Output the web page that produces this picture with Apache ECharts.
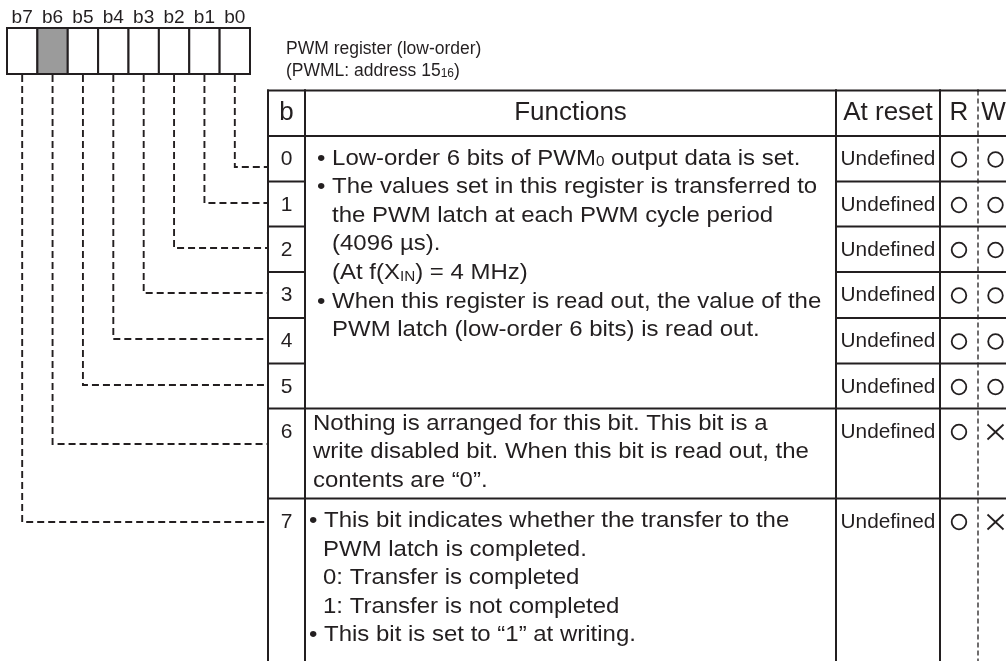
<!DOCTYPE html>
<html><head><meta charset="utf-8">
<script src="https://cdn.jsdelivr.net/npm/echarts@6/dist/echarts.min.js"></script>
<style>html,body{margin:0;padding:0;background:#fff}#chart{width:1006px;height:661px}</style>
</head><body><div id="chart"></div>
<script>
// ---------------- data (content only) ----------------
const bitNames = ['b7', 'b6', 'b5', 'b4', 'b3', 'b2', 'b1', 'b0'];
const reservedBits = ['b6'];
const titleLines = ['PWM register (low-order)', '(PWML: address 15{sub|16})'];
const headers = ['b', 'Functions', 'At reset', 'R', 'W'];
const rowBits = ['0', '1', '2', '3', '4', '5', '6', '7'];
const resetValues = ['Undefined', 'Undefined', 'Undefined', 'Undefined', 'Undefined', 'Undefined', 'Undefined', 'Undefined'];
const readMarks = ['O', 'O', 'O', 'O', 'O', 'O', 'O', 'O'];
const writeMarks = ['O', 'O', 'O', 'O', 'O', 'O', 'X', 'X'];
const functionRowSpans = [[0, 5], [6, 6], [7, 7]];
const functionTexts = [
  [
    '• Low-order 6 bits of PWM{sub|0} output data is set.',
    '• The values set in this register is transferred to',
    'the PWM latch at each PWM cycle period',
    '(4096 µs).',
    '(At f(X{sub|IN}) = 4 MHz)',
    '• When this register is read out, the value of the',
    'PWM latch (low-order 6 bits) is read out.'
  ],
  [
    'Nothing is arranged for this bit. This bit is a',
    'write disabled bit. When this bit is read out, the',
    'contents are “0”.'
  ],
  [
    '• This bit indicates whether the transfer to the',
    'PWM latch is completed.',
    '0: Transfer is completed',
    '1: Transfer is not completed',
    '• This bit is set to “1” at writing.'
  ]
];

// ---------------- layout (positions / sizes / styles) ----------------
const L = {
  reg: { x0: 7, x1: 250, y0: 28, y1: 74, labelY: 18 },
  title: { x: 286, y: [49, 71] },
  cols: [268, 305, 836, 940, 978, 1012],
  top: 90.5, headBottom: 136, bottom: 661,
  rowTops: [136, 181.5, 226.5, 272, 318, 363.5, 408.5, 498.5],
  rowBottoms: [181.5, 226.5, 272, 318, 363.5, 408.5, 498.5, 661],
  markDy: 23.5,
  connectorDy: [7.5, -2, -2, -2.5, -2.5, -2, 12, 0],
  lineH: 28.6,
  groupFirstDy: [22.5, 15, 22.5],
  groupX: [{ bullet: 317, text: 332 }, { bullet: 313, text: 313 }, { bullet: 309, text: 323 }],
  wMarkX: 995.5
};
const FONT = "'Liberation Sans', Arial, Helvetica, sans-serif";
const INK = '#231f20';
const GRAY = '#9b9b9b';

function P(api, x, y) { return api.coord([x, y]); }
function seg(api, x1, y1, x2, y2, extra) {
  const a = P(api, x1, y1), b = P(api, x2, y2);
  return { type: 'line', shape: { x1: a[0], y1: a[1], x2: b[0], y2: b[1] },
    style: Object.assign({ stroke: INK, lineWidth: 2 }, extra || {}) };
}
function txt(api, x, y, text, o) {
  o = o || {};
  const p = P(api, x, y);
  return { type: 'text', x: p[0], y: p[1], scaleX: o.scaleX || 1,
    style: { text: text, fill: INK, fontFamily: FONT, fontSize: o.size || 22,
      align: o.align || 'left', verticalAlign: 'middle',
      rich: { sub: { fontSize: o.sub || 14, fontFamily: FONT, fill: INK, verticalAlign: 'bottom' } } } };
}

const base = { type: 'custom', coordinateSystem: 'cartesian2d', animation: false, silent: true, clip: false };

const option = {
  backgroundColor: '#fff',
  animation: false,
  grid: { left: 0, right: 0, top: 0, bottom: 0 },
  xAxis: { type: 'value', min: 0, max: 1006, show: false },
  yAxis: { type: 'value', min: 0, max: 661, inverse: true, show: false },
  series: [
    // register cells + bit names
    Object.assign({}, base, {
      id: 'register', data: bitNames.map((b, i) => [i, 0]),
      renderItem(params, api) {
        const i = params.dataIndex;
        const w = (L.reg.x1 - L.reg.x0) / bitNames.length;
        const xa = L.reg.x0 + i * w;
        const p0 = P(api, xa, L.reg.y0), p1 = P(api, xa + w, L.reg.y1);
        return { type: 'group', children: [
          { type: 'rect', shape: { x: p0[0], y: p0[1], width: p1[0] - p0[0], height: p1[1] - p0[1] },
            style: { fill: reservedBits.includes(bitNames[i]) ? GRAY : '#fff', stroke: INK, lineWidth: 2 } },
          txt(api, xa + w / 2, L.reg.labelY, bitNames[i], { size: 18.5, align: 'center', scaleX: 1.03 })
        ] };
      }
    }),
    // dashed connectors
    Object.assign({}, base, {
      id: 'connectors', data: bitNames.map((b, i) => [i, 0]),
      renderItem(params, api) {
        const i = params.dataIndex;
        const row = bitNames.length - 1 - i;
        const w = (L.reg.x1 - L.reg.x0) / bitNames.length;
        const cx = L.reg.x0 + (i + 0.5) * w;
        const cy = L.rowTops[row] + L.markDy + L.connectorDy[row];
        const pts = [P(api, cx, L.reg.y1 + 1), P(api, cx, cy), P(api, L.cols[0] - 1, cy)];
        return { type: 'polyline', shape: { points: pts },
          style: { stroke: INK, lineWidth: 1.9, lineDash: [7, 4], fill: null } };
      }
    }),
    // title
    Object.assign({}, base, {
      id: 'title', data: titleLines.map((t, i) => [i, 0]),
      renderItem(params, api) {
        const i = params.dataIndex;
        return txt(api, L.title.x, L.title.y[i], titleLines[i], { size: 17.5, sub: 12 });
      }
    }),
    // columns: frame + header
    Object.assign({}, base, {
      id: 'columns', data: headers.map((h, i) => [i, 0]),
      renderItem(params, api) {
        const c = params.dataIndex;
        const xl = L.cols[c], xr = L.cols[c + 1];
        const isW = c === headers.length - 1;
        const cx = isW ? L.wMarkX - 2 : (xl + xr) / 2;
        return { type: 'group', children: [
          isW ? seg(api, xl, L.top, xl, L.bottom, { lineWidth: 1.3, lineDash: [5, 3] })
              : seg(api, xl, L.top - 1, xl, L.bottom),
          seg(api, xl - 1, L.top, xr + 1, L.top),
          seg(api, xl - 1, L.headBottom, xr + 1, L.headBottom),
          txt(api, cx, (L.top + L.headBottom) / 2, headers[c], { size: 25, align: 'center', scaleX: 1.04 })
        ] };
      }
    }),
    // rows: bit digit, reset value, R/W marks, separators
    Object.assign({}, base, {
      id: 'rows', data: rowBits.map((r, i) => [i, 0]),
      renderItem(params, api) {
        const r = params.dataIndex;
        const y = L.rowTops[r] + L.markDy;
        const yb = L.rowBottoms[r];
        const C = L.cols;
        const children = [
          txt(api, (C[0] + C[1]) / 2, y, rowBits[r], { size: 21, align: 'center' }),
          txt(api, (C[2] + C[3]) / 2, y, resetValues[r], { size: 20.8, align: 'center' })
        ];
        if (r < rowBits.length - 1) {
          children.push(seg(api, C[0] - 1, yb, C[1] + 1, yb));
          children.push(seg(api, C[2] - 1, yb, C[5] + 1, yb));
        }
        const marks = [[(C[3] + C[4]) / 2, readMarks[r]], [L.wMarkX, writeMarks[r]]];
        marks.forEach(([mx, m]) => {
          const c = P(api, mx, y);
          if (m === 'O') {
            children.push({ type: 'circle', shape: { cx: c[0], cy: c[1], r: 7.3 },
              style: { fill: null, stroke: INK, lineWidth: 1.8 } });
          } else {
            children.push(seg(api, mx - 8, y - 7.5, mx + 8, y + 7.5, { lineWidth: 1.8 }));
            children.push(seg(api, mx - 8, y + 7.5, mx + 8, y - 7.5, { lineWidth: 1.8 }));
          }
        });
        return { type: 'group', children: children };
      }
    }),
    // function descriptions
    Object.assign({}, base, {
      id: 'functions', data: functionRowSpans.map((s, i) => [i, 0]),
      renderItem(params, api) {
        const g = params.dataIndex;
        const span = functionRowSpans[g];
        const top = L.rowTops[span[0]];
        const yb = L.rowBottoms[span[1]];
        const gx = L.groupX[g];
        const children = functionTexts[g].map((line, k) => {
          const bullet = line.indexOf('• ') === 0;
          return txt(api, bullet ? gx.bullet : gx.text, top + L.groupFirstDy[g] + k * L.lineH, line,
            { size: 22, sub: 14, scaleX: 1.09 });
        });
        if (span[1] < rowBits.length - 1) children.push(seg(api, L.cols[1] - 1, yb, L.cols[2] + 1, yb));
        return { type: 'group', children: children };
      }
    })
  ]
};

const chart = echarts.init(document.getElementById('chart'), null, { renderer: 'canvas' });
chart.setOption(option);
</script>
</body></html>
